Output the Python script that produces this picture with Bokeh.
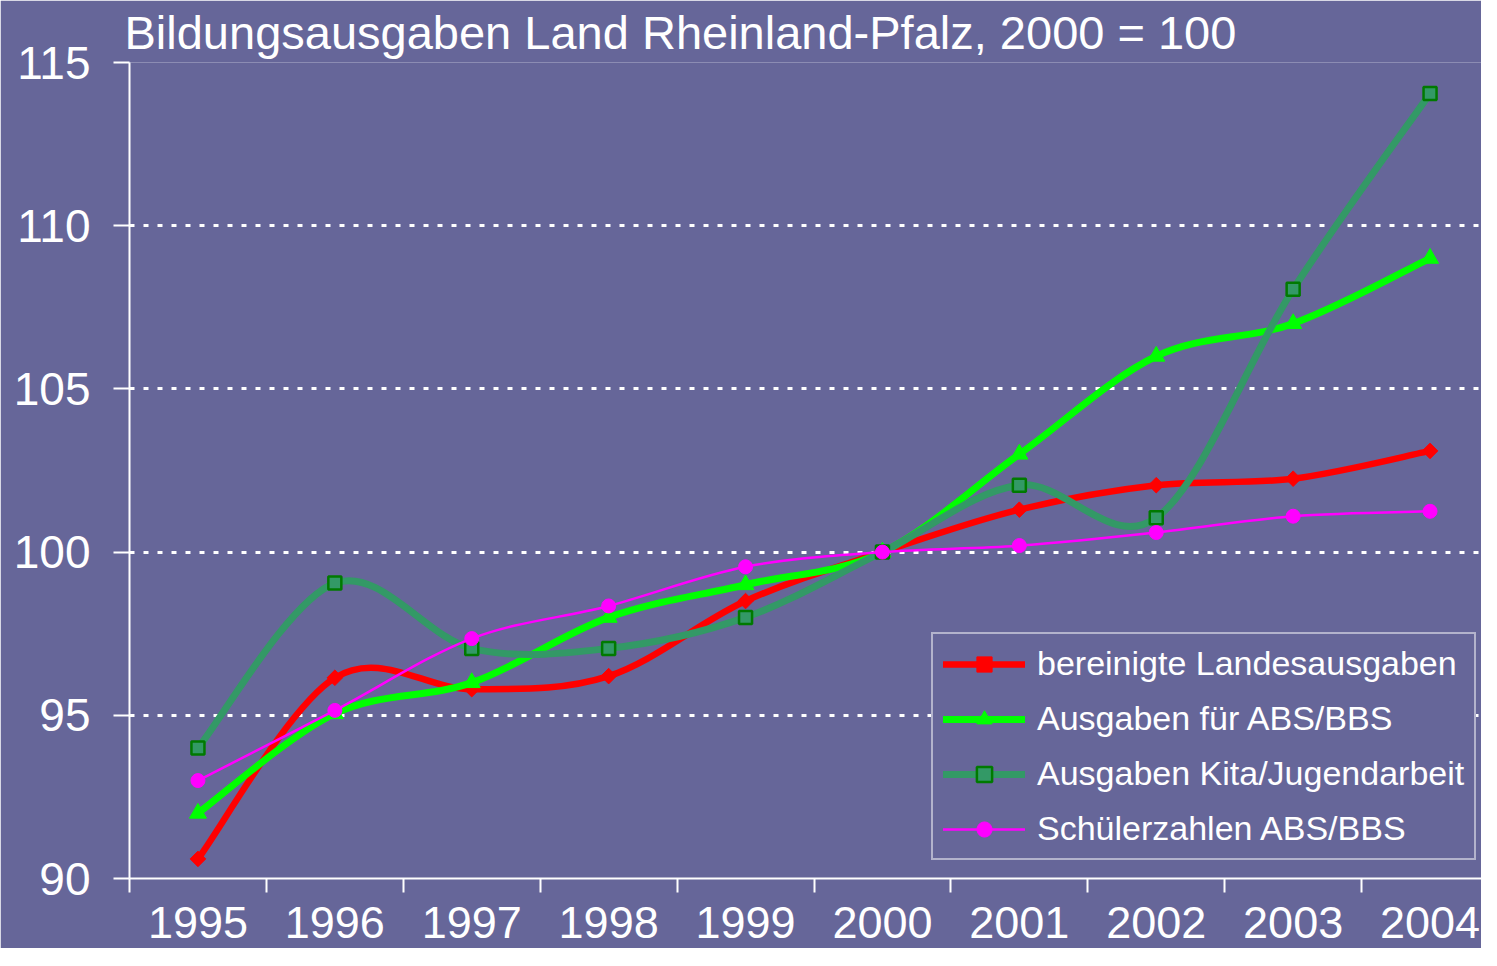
import math
from bokeh.plotting import figure
from bokeh.models import Range1d, FixedTicker, Legend, LegendItem, ColumnDataSource
from bokeh.embed import file_html
from bokeh.resources import INLINE

# ---------------- data ----------------
years = ["1995", "1996", "1997", "1998", "1999", "2000", "2001", "2002", "2003", "2004"]
landesausgaben = [90.6, 96.15, 95.8, 96.2, 98.5, 100.0, 101.3, 102.05, 102.25, 103.1]
abs_bbs = [92.0, 95.05, 96.0, 98.0, 99.0, 100.0, 103.0, 106.0, 107.0, 109.0]
kita = [94.0, 99.05, 97.05, 97.05, 98.0, 100.0, 102.05, 101.05, 108.05, 114.05]
schueler = [93.0, 95.15, 97.35, 98.35, 99.55, 100.0, 100.2, 100.6, 101.1, 101.25]
series_names = ["bereinigte Landesausgaben", "Ausgaben für ABS/BBS",
                "Ausgaben Kita/Jugendarbeit", "Schülerzahlen ABS/BBS"]
y_ticks = [90, 95, 100, 105, 110, 115]

BG = "#666699"
FONT = "Liberation Sans"

xpos = [i + 0.5 for i in range(len(years))]


def smooth_segments(xs, ys, t=1.0 / 6.0):
    """Cubic Bezier control points (Excel-style smoothed line) for each segment."""
    n = len(xs)
    d = dict(x0=[], y0=[], x1=[], y1=[], cx0=[], cy0=[], cx1=[], cy1=[])
    for i in range(n - 1):
        a = i - 1 if i > 0 else i
        b = i + 2 if i + 2 < n else i + 1
        d["x0"].append(xs[i]); d["y0"].append(ys[i])
        d["x1"].append(xs[i + 1]); d["y1"].append(ys[i + 1])
        d["cx0"].append(xs[i] + (xs[i + 1] - xs[a]) * t)
        d["cy0"].append(ys[i] + (ys[i + 1] - ys[a]) * t)
        d["cx1"].append(xs[i + 1] - (xs[b] - xs[i]) * t)
        d["cy1"].append(ys[i + 1] - (ys[b] - ys[i]) * t)
    return ColumnDataSource(d)


FRAME_W = 1352
p = figure(frame_width=FRAME_W, frame_height=816,
           min_border_left=129, min_border_right=0,
           min_border_top=62, min_border_bottom=70,
           x_range=Range1d(0, FRAME_W / 136.9), y_range=Range1d(90, 115),
           output_backend="svg", toolbar_location=None,
           background_fill_color=BG, border_fill_color=BG,
           outline_line_color=None)

p.title.text = "Bildungsausgaben Land Rheinland-Pfalz, 2000 = 100"
p.title.text_font = FONT
p.title.text_font_size = "47px"
p.title.text_font_style = "normal"
p.title.text_color = "white"
p.title.align = "left"
p.title.offset = -5
p.title.standoff = 7

# x axis
xa = p.xaxis[0]
xa.ticker = FixedTicker(ticks=xpos, minor_ticks=list(range(len(years) + 1)))
xa.major_label_overrides = {x: y for x, y in zip(xpos, years)}
xa.major_tick_out = 0
xa.major_tick_in = 0
xa.minor_tick_out = 14
xa.minor_tick_in = 0
xa.minor_tick_line_color = "white"
xa.minor_tick_line_width = 2
xa.axis_line_color = "white"
xa.axis_line_width = 2
xa.major_label_text_color = "white"
xa.major_label_text_font = FONT
xa.major_label_text_font_size = "45px"
xa.major_label_standoff = 14

# y axis
ya = p.yaxis[0]
ya.ticker = FixedTicker(ticks=y_ticks, minor_ticks=[])
ya.major_tick_out = 16
ya.major_tick_in = 0
ya.major_tick_line_color = "white"
ya.major_tick_line_width = 2
ya.axis_line_color = "white"
ya.axis_line_width = 2
ya.major_label_text_color = "white"
ya.major_label_text_font = FONT
ya.major_label_text_font_size = "46px"
ya.major_label_standoff = 23

p.xgrid.visible = False
p.ygrid.ticker = FixedTicker(ticks=y_ticks)
p.ygrid.grid_line_color = "white"
p.ygrid.grid_line_width = 3
p.ygrid.grid_line_dash = "5 9"

styles = [
    dict(color="#FF0000", width=6.5, marker="square", angle=math.pi / 4, size=11,
         fill="#FF0000", mline="#FF0000", mlw=1),
    dict(color="#00FF00", width=7, marker="triangle", angle=0, size=17,
         fill="#00FF00", mline="#00FF00", mlw=1),
    dict(color="#339966", width=7, marker="square", angle=0, size=13,
         fill="#339966", mline="#007A00", mlw=2.5),
    dict(color="#FF00FF", width=2.5, marker="circle", angle=0, size=14,
         fill="#FF00FF", mline="#FF00FF", mlw=1),
]

items = []
for name, vals, st in zip(series_names, [landesausgaben, abs_bbs, kita, schueler], styles):
    src = smooth_segments(xpos, vals)
    b = p.bezier(x0="x0", y0="y0", x1="x1", y1="y1", cx0="cx0", cy0="cy0",
                 cx1="cx1", cy1="cy1", source=src, line_color=st["color"],
                 line_width=st["width"], line_cap="round", line_join="round")
    s = p.scatter(x=xpos, y=vals, marker=st["marker"], size=st["size"], angle=st["angle"],
                  fill_color=st["fill"], line_color=st["mline"], line_width=st["mlw"])
    items.append(LegendItem(label=name, renderers=[b, s]))

legend = Legend(items=items, location=(802, 18))
legend.border_line_color = "white"
legend.border_line_width = 2
legend.background_fill_color = BG
legend.background_fill_alpha = 1
legend.label_text_color = "white"
legend.label_text_font = FONT
legend.label_text_font_size = "34px"
legend.glyph_width = 82
legend.glyph_height = 38
legend.label_height = 38
legend.label_standoff = 12
legend.spacing = 16
legend.padding = 10
legend.margin = 0
p.add_layout(legend)

open("out.html", "w").write(file_html(p, INLINE))
